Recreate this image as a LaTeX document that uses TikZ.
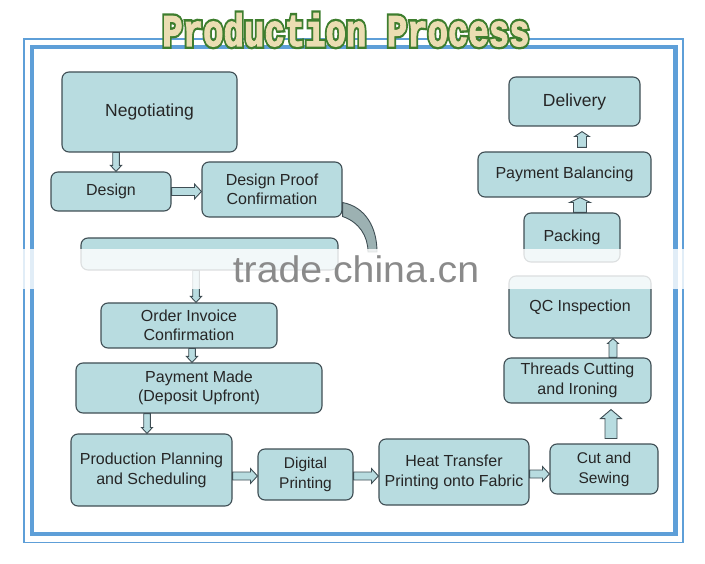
\documentclass[tikz,border=0pt]{standalone}
\usepackage{fontspec}
\setmainfont{Liberation Sans}
\newfontfamily\titlefont[FakeBold=2.5]{Liberation Mono}
\newfontfamily\titleedgefont[FakeBold=13]{Liberation Mono}
\usetikzlibrary{calc}
\definecolor{boxfill}{HTML}{B8DCE0}
\definecolor{boxline}{HTML}{3F4E54}
\definecolor{bendfill}{HTML}{9CB1B2}
\definecolor{framebl}{HTML}{5E9FD8}
\definecolor{titlegreen}{HTML}{3E7E2E}
\definecolor{titlefill}{HTML}{EBDDB2}
\definecolor{markgray}{HTML}{8A8A8A}
\tikzset{
  stage/.style={draw=boxline, fill=boxfill, line width=1.1pt, rounded corners=7pt,
    align=center, inner sep=0pt, text=black!85, font=\fontsize{16}{19.5}\selectfont},
  arrowbody/.style={draw=boxline, fill=boxfill, line width=0.9pt, line join=miter},
  titletext/.style={anchor=base, inner sep=0pt, yscale=1.33, transform shape},
}
% block arrow: start, end, half shaft, half head, head length
\newcommand{\blockarrow}[5]{%
  \draw[arrowbody] let \p1=#1, \p2=#2,
      \n1={atan2(\y2-\y1,\x2-\x1)}, \n2={veclen(\x2-\x1,\y2-\y1)} in
    ([shift={(\p1)},rotate=\n1]0pt,-#3) -- ([shift={(\p1)},rotate=\n1]\n2-#5,-#3)
    -- ([shift={(\p1)},rotate=\n1]\n2-#5,-#4) -- ([shift={(\p1)},rotate=\n1]\n2,0pt)
    -- ([shift={(\p1)},rotate=\n1]\n2-#5,#4) -- ([shift={(\p1)},rotate=\n1]\n2-#5,#3)
    -- ([shift={(\p1)},rotate=\n1]0pt,#3) -- cycle;}

\begin{document}
\begin{tikzpicture}[x=1pt,y=-1pt]
\useasboundingbox (0,0) rectangle (705,564);
% frame
\draw[framebl, line width=1.6pt] (24,39) rectangle (683,542.5);
\draw[framebl, line width=4.5pt] (32,47) rectangle (675.5,534);
% title
\node[titletext, text=titlegreen, font=\titleedgefont\bfseries\fontsize{34}{34}\selectfont] (titleedge) at (346,46) {Production Process};
\node[titletext, text=titlefill, font=\titlefont\bfseries\fontsize{34}{34}\selectfont] (title) at (346,46) {Production Process};

% left column
\node[stage, minimum width=175pt, minimum height=80pt, font=\fontsize{17.5}{20}\selectfont] (neg) at (149.5,112) {Negotiating};
\node[stage, minimum width=120pt, minimum height=39pt] (design) at (111,191.5) {Design};
\node[stage, minimum width=140pt, minimum height=55pt] (proof) at (272,189.5) {Design Proof\\Confirmation};
\node[stage, minimum width=257pt, minimum height=32pt] (blank) at (209.5,254) {};
\node[stage, minimum width=176pt, minimum height=45pt] (invoice) at (189,325.5) {Order Invoice\\Confirmation};
\node[stage, minimum width=246pt, minimum height=50pt] (deposit) at (199,388) {Payment Made\\(Deposit Upfront)};
% bottom row
\node[stage, minimum width=161pt, minimum height=72pt, font=\fontsize{16}{20}\selectfont] (plan) at (151.5,470) {Production Planning\\and Scheduling};
\node[stage, minimum width=95pt, minimum height=51pt, font=\fontsize{15.5}{20}\selectfont] (digital) at (305.5,474.5) {Digital\\Printing};
\node[stage, minimum width=150pt, minimum height=66pt, font=\fontsize{16}{20}\selectfont] (heat) at (454,472) {Heat Transfer\\Printing onto Fabric};
\node[stage, minimum width=108pt, minimum height=50pt, font=\fontsize{15.5}{20}\selectfont] (sew) at (604,469) {Cut and\\Sewing};
% right column
\node[stage, minimum width=147pt, minimum height=45pt] (threads) at (577.5,380.5) {Threads Cutting\\and Ironing};
\node[stage, minimum width=142pt, minimum height=62pt] (qc) at (580,307) {QC Inspection};
\node[stage, minimum width=96pt, minimum height=49pt] (pack) at (572,237.5) {Packing};
\node[stage, minimum width=173pt, minimum height=45pt] (balance) at (564.5,174.5) {Payment Balancing};
\node[stage, minimum width=131pt, minimum height=49pt, font=\fontsize{17.5}{20}\selectfont] (deliver) at (574.5,101.5) {Delivery};

% arrows
\blockarrow{(116,0 |- neg.south)}{(116,0 |- design.north)}{3.3pt}{5.5pt}{6pt}
\blockarrow{(design.east)}{(proof.west |- design.east)}{4pt}{7.5pt}{7pt}
\coordinate (bendend) at (377,252);
\draw[arrowbody, fill=bendfill] ($(proof.east)+(0,13)$) .. controls (366,207) and (377,228) .. (bendend)
  -- (368,252) .. controls (368,236) and (359,222) .. ($(proof.east)+(0,27)$) -- cycle;
\blockarrow{(196,0 |- blank.south)}{(196,0 |- invoice.north)}{3.3pt}{5.5pt}{6pt}
\blockarrow{(192,0 |- invoice.south)}{(192,0 |- deposit.north)}{3.3pt}{5.5pt}{6pt}
\blockarrow{(147,0 |- deposit.south)}{(147,0 |- plan.north)}{3.3pt}{5.5pt}{6pt}
\blockarrow{(plan.east |- 0,476)}{(digital.west |- 0,476)}{4pt}{7.5pt}{7pt}
\blockarrow{(digital.east |- 0,476)}{(heat.west |- 0,476)}{4pt}{7.5pt}{7pt}
\blockarrow{(heat.east |- 0,474)}{(sew.west |- 0,474)}{4pt}{7.5pt}{7pt}
\blockarrow{($(611,0 |- sew.north)+(0,-5)$)}{($(611,0 |- threads.south)+(0,6)$)}{6pt}{10.5pt}{9pt}
\blockarrow{(613,0 |- threads.north)}{(613,0 |- qc.south)}{4pt}{5.5pt}{5pt}
\blockarrow{(580,0 |- pack.north)}{(580,0 |- balance.south)}{6.5pt}{10.5pt}{5pt}
\blockarrow{($(582,0 |- balance.north)+(0,-4)$)}{($(582,0 |- deliver.south)+(0,5)$)}{4.5pt}{7.5pt}{5pt}

% watermark band
\fill[white, opacity=0.82] (0,249) rectangle (705,289);
\node[anchor=base, inner sep=0pt, xscale=1.06, transform shape, text=markgray,
  font=\fontsize{37}{37}\selectfont] (mark) at (356,283) {trade.china.cn};
\end{tikzpicture}
\end{document}
